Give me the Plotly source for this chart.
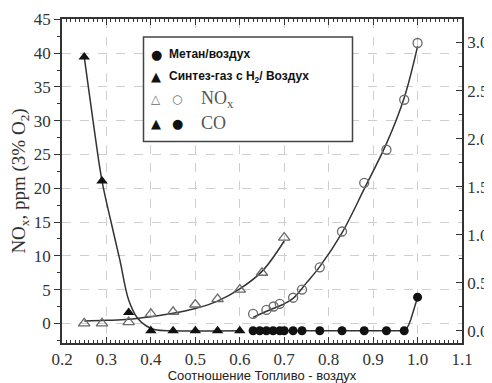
import plotly.graph_objects as go

# ---------------- data ----------------
# Syngas (H2) / air : NOx (open triangles, left axis)
syn_nox_x = [0.25, 0.29, 0.35, 0.40, 0.45, 0.50, 0.55, 0.60, 0.65, 0.70]
syn_nox_y = [0.0, 0.0, 0.2, 1.4, 1.7, 2.8, 3.6, 5.0, 7.5, 12.7]
syn_nox_fit_x = [0.25, 0.30, 0.35, 0.40, 0.45, 0.50, 0.55, 0.60, 0.65, 0.70]
syn_nox_fit_y = [0.35, 0.45, 0.6, 1.0, 1.5, 2.2, 3.3, 5.1, 7.7, 12.2]

# Syngas (H2) / air : CO (filled triangles, right axis)
syn_co_x = [0.25, 0.29, 0.35, 0.40, 0.45, 0.50, 0.55, 0.60]
syn_co_y = [2.85, 1.56, 0.19, 0.0, 0.0, 0.0, 0.0, 0.0]
syn_co_fit_x = [0.25, 0.27, 0.29, 0.31, 0.33, 0.35, 0.37, 0.39, 0.41, 0.45, 0.60]
syn_co_fit_y = [2.85, 2.18, 1.56, 1.14, 0.74, 0.32, 0.13, 0.05, 0.01, 0.0, 0.0]

# Methane / air : NOx (open circles, left axis)
met_nox_x = [0.63, 0.66, 0.676, 0.69, 0.72, 0.74, 0.78, 0.83, 0.88, 0.93, 0.97, 1.0]
met_nox_y = [1.4, 2.0, 2.5, 2.9, 3.8, 5.0, 8.3, 13.6, 20.8, 25.7, 33.1, 41.5]
met_nox_fit_x = [0.63, 0.65, 0.675, 0.70, 0.72, 0.75, 0.78, 0.83, 0.88, 0.93, 0.97, 1.0]
met_nox_fit_y = [0.9, 1.5, 2.2, 2.9, 3.7, 6.0, 8.4, 13.4, 19.9, 26.6, 33.4, 41.0]

# Methane / air : CO (filled circles, right axis)
met_co_x = [0.63, 0.645, 0.66, 0.675, 0.69, 0.70, 0.72, 0.74, 0.78, 0.83, 0.88, 0.93, 0.97, 1.0]
met_co_y = [0.0, 0.0, 0.0, 0.0, 0.0, 0.0, 0.0, 0.0, 0.0, 0.0, 0.0, 0.0, 0.0, 0.35]
met_co_fit_x = [0.63, 0.80, 0.97, 0.975, 0.98, 0.985, 0.99, 0.995, 1.0]
met_co_fit_y = [0.0, 0.0, 0.0, 0.02, 0.06, 0.12, 0.19, 0.27, 0.35]

x_range = [0.2, 1.1]
y_left_range = [-2.9, 45.05]
y_right_range = [-0.127, 3.245]

# ---------------- styling ----------------
# The page body has an 8px default margin, so the figure is drawn 8px in.
OFF = 8
W, H = 492 - OFF, 383 - OFF
# desired plot frame on screen: x 62..462, y 19..343
ML = 62 - OFF
MT = 19 - OFF
MR = W - (462 - OFF)
MB = H - (343 - OFF)
LINE = "#333333"
OPEN = "#6a6a6a"
FILL = "#111111"
SERIF = "Liberation Serif, Times New Roman, serif"
SANS = "Liberation Sans, Arial, sans-serif"

fig = go.Figure()

def curve(x, y, axis, shape="spline"):
    fig.add_trace(go.Scatter(x=x, y=y, mode="lines", yaxis=axis,
                             line=dict(color=LINE, width=1.5, shape=shape),
                             hoverinfo="skip", showlegend=False))

curve(syn_nox_fit_x, syn_nox_fit_y, "y")
curve(met_nox_fit_x, met_nox_fit_y, "y")
curve(syn_co_fit_x, syn_co_fit_y, "y2")
curve(met_co_fit_x, met_co_fit_y, "y2", shape="linear")

fig.add_trace(go.Scatter(x=syn_nox_x, y=syn_nox_y, mode="markers", yaxis="y",
                         marker=dict(symbol="triangle-up-open", size=10, color=OPEN,
                                     line=dict(width=1.3, color=OPEN)),
                         showlegend=False))
fig.add_trace(go.Scatter(x=met_nox_x, y=met_nox_y, mode="markers", yaxis="y",
                         marker=dict(symbol="circle-open", size=9, color=OPEN,
                                     line=dict(width=1.3, color=OPEN)),
                         showlegend=False))
fig.add_trace(go.Scatter(x=syn_co_x, y=syn_co_y, mode="markers", yaxis="y2",
                         marker=dict(symbol="triangle-up", size=10, color=FILL),
                         showlegend=False))
fig.add_trace(go.Scatter(x=met_co_x, y=met_co_y, mode="markers", yaxis="y2",
                         marker=dict(symbol="circle", size=9, color=FILL),
                         showlegend=False))

tickfont = dict(family=SERIF, size=17, color="#333333")

fig.update_layout(
    width=W, height=H,
    margin=dict(l=ML, r=MR, t=MT, b=MB, pad=0),
    paper_bgcolor="white", plot_bgcolor="white",
    showlegend=False,
    xaxis=dict(range=x_range, dtick=0.1, tick0=0.2, tickformat=".1f",
               automargin=False,
               ticks="inside", ticklen=6, tickwidth=1.2, tickcolor=LINE,
               minor=dict(dtick=0.01, ticks="inside", ticklen=3, tickwidth=1,
                          tickcolor=LINE, showgrid=False),
               showline=True, linecolor=LINE, linewidth=1.5, mirror="ticks",
               showgrid=True, gridcolor="#cfcfcf", griddash="dash", gridwidth=1,
               zeroline=False, tickfont=tickfont,
               title=dict(text="Соотношение Топливо - воздух",
                          font=dict(family=SANS, size=13, color="#222222"),
                          standoff=2)),
    yaxis=dict(range=y_left_range, dtick=5, tick0=0,
               automargin=False,
               ticks="outside", ticklen=6, tickwidth=1.2, tickcolor=LINE,
               minor=dict(dtick=2.5, ticks="outside", ticklen=3, tickwidth=1,
                          tickcolor=LINE, showgrid=False),
               showline=True, linecolor=LINE, linewidth=1.5,
               showgrid=True, gridcolor="#cfcfcf", griddash="dash", gridwidth=1,
               zeroline=False, tickfont=tickfont,
               title=dict(text="NO<sub>x</sub>, ppm (3% O<sub>2</sub>)",
                          font=dict(family=SERIF, size=19, color="#333333"),
                          standoff=4)),
    yaxis2=dict(range=y_right_range, overlaying="y", side="right",
                automargin=False,
                dtick=0.5, tick0=0, tickformat=".1f",
                ticks="inside", ticklen=6, tickwidth=1.2, tickcolor=LINE,
                minor=dict(dtick=0.25, ticks="inside", ticklen=3, tickwidth=1,
                           tickcolor=LINE, showgrid=False),
                showline=True, linecolor=LINE, linewidth=1.5,
                showgrid=False, zeroline=False, tickfont=tickfont),
)

# ---------------- hand-made legend box (positions in screen pixels) ----------------
PW = W - ML - MR
PH = H - MT - MB

def px(xs):
    return (xs - OFF - ML) / PW

def py(ys):
    return (H - MB - (ys - OFF)) / PH

fig.add_shape(type="rect", xref="paper", yref="paper",
              x0=px(143.5), x1=px(352.5), y0=py(141.5), y1=py(37),
              line=dict(color="#444444", width=1.5), fillcolor="white", layer="above")

def glyph(ch, x, y, color, size=13):
    fig.add_annotation(text=ch, xref="paper", yref="paper", x=px(x), y=py(y),
                       xanchor="center", yanchor="middle", showarrow=False,
                       font=dict(family="DejaVu Sans", size=size, color=color))

def label(txt, x, y, font):
    fig.add_annotation(text=txt, xref="paper", yref="paper", x=px(x), y=py(y),
                       xanchor="left", yanchor="middle", showarrow=False, font=font)

bold = dict(family=SANS, size=12, color="#111111")
glyph("●", 156, 54, FILL)
label("<b>Метан/воздух</b>", 167, 54, bold)
glyph("▲", 156, 76, FILL)
label("<b>Синтез-газ с H<sub>2</sub>/ Воздух</b>", 167, 77, bold)
glyph("△", 156, 99, OPEN, 12)
glyph("○", 177, 99, OPEN, 12)
label("NO<sub>x</sub>", 199, 99, dict(family=SERIF, size=18, color="#555555"))
glyph("▲", 156, 123, FILL)
glyph("●", 177, 123, FILL)
label("CO", 199, 123, dict(family=SERIF, size=18, color="#555555"))

fig.write_html("out.html")
